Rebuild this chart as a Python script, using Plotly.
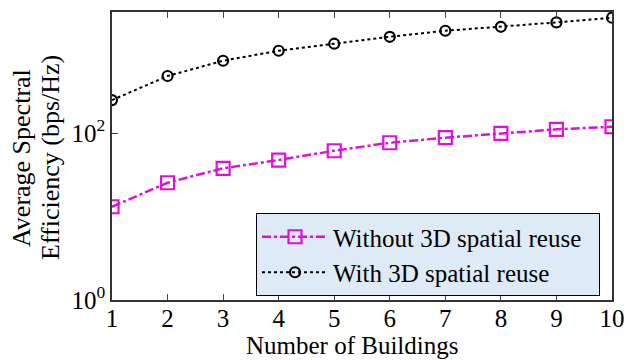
import plotly.graph_objects as go

buildings = [1, 2, 3, 4, 5, 6, 7, 8, 9, 10]
without_3d = [13.1, 25.4, 37.8, 47.5, 61.4, 76.5, 87.9, 99, 110.7, 119]
with_3d = [248, 482, 735, 968, 1175, 1423, 1680, 1875, 2115, 2405]
y_tickvals = [1, 100]
y_ticktext = ["10<sup>0</sup>", "10<sup>2</sup>"]

font = "Liberation Serif"
# page body has an 8px margin: figure sized so window coords = fig coords + 8
OFF = 8
W, H = 632 - OFF, 360 - OFF
L, T = 112 - OFF, 12 - OFF
R = W - (612 - OFF)
B = H - (300 - OFF)
PW, PH = W - L - R, H - T - B

def px_x(p):
    return (p - OFF - L) / PW

def px_y(p):
    return (H - B - (p - OFF)) / PH

fig = go.Figure()
fig.add_trace(go.Scatter(
    x=buildings, y=without_3d, mode="lines+markers",
    name="Without 3D spatial reuse\u00a0\u00a0",
    line=dict(color="#e010d8", width=2.5, dash="dashdot"),
    marker=dict(symbol="square-open", size=13, color="#e010d8", line=dict(width=2.2)),
))
fig.add_trace(go.Scatter(
    x=buildings, y=with_3d, mode="lines+markers",
    name="With 3D spatial reuse",
    line=dict(color="black", width=2, dash="dot"),
    marker=dict(symbol="circle-open", size=10, color="black", line=dict(width=2.2)),
))

fig.update_layout(
    width=W, height=H,
    margin=dict(l=L, r=R, t=T, b=B, autoexpand=False),
    paper_bgcolor="white", plot_bgcolor="white",
    font=dict(family=font, size=24, color="black"),
    showlegend=True,
    legend=dict(
        x=px_x(256), y=px_y(213), xanchor="left", yanchor="top",
        bgcolor="#dfeaf7", bordercolor="black", borderwidth=1,
        font=dict(family=font, size=25, color="black"),
        tracegroupgap=0, itemwidth=66,
    ),
    xaxis=dict(
        range=[1, 10], tickvals=buildings, ticks="inside", ticklen=6,
        showline=True, linecolor="#333", linewidth=1.5, mirror="allticks",
        showgrid=False, zeroline=False, automargin=False,
        tickfont=dict(family=font, size=25), ticklabelstandoff=-5,
    ),
    yaxis=dict(
        type="log", range=[0, 3.45], tickvals=y_tickvals, ticktext=y_ticktext,
        ticks="inside", ticklen=6,
        showline=True, linecolor="#333", linewidth=1.5, mirror="allticks",
        showgrid=False, zeroline=False, automargin=False,
        tickfont=dict(family=font, size=25),
    ),
    annotations=[
        dict(text="Number of Buildings", xref="paper", yref="paper",
             x=px_x(352), y=px_y(361), xanchor="center", yanchor="bottom",
             showarrow=False, font=dict(family=font, size=25)),
        dict(text="Average Spectral", xref="paper", yref="paper",
             x=px_x(21), y=px_y(158), xanchor="center", yanchor="middle",
             textangle=-90, showarrow=False, font=dict(family=font, size=26)),
        dict(text="Efficiency (bps/Hz)", xref="paper", yref="paper",
             x=px_x(50), y=px_y(158), xanchor="center", yanchor="middle",
             textangle=-90, showarrow=False, font=dict(family=font, size=26)),
    ],
)

fig.write_html("out.html")
